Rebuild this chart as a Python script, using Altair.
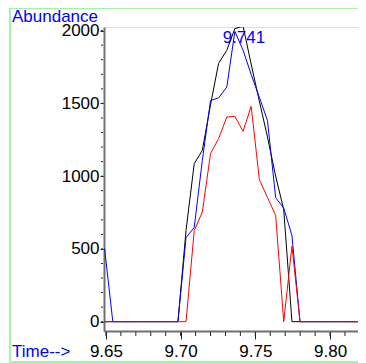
import altair as alt
import pandas as pd

# Retention time (min) of each scan
times = [9.6491, 9.6546, 9.6600, 9.6655, 9.6709, 9.6764, 9.6818, 9.6873, 9.6927, 9.6982,
         9.7036, 9.7091, 9.7145, 9.7200, 9.7254, 9.7309, 9.7363, 9.7418, 9.7472, 9.7527,
         9.7581, 9.7636, 9.7690, 9.7745, 9.7799, 9.7854, 9.7908, 9.7963, 9.8017, 9.8072,
         9.8126, 9.8181, 9.8235]
black = [0, 0, 0, 0, 0, 0, 0, 0, 0, 0,
         627, 1086, 1177, 1491, 1775, 1865, 2014, 2030, 1770, 1514,
         1270, 1000, 770, 0, 0, 0, 0, 0, 0, 0,
         0, 0, 0]
blue = [502, 0, 0, 0, 0, 0, 0, 0, 0, 0,
        577, 648, 1108, 1520, 1538, 1612, 1995, 1865, 1699, 1541,
        1383, 852, 781, 593, 0, 0, 0, 0, 0, 0,
        0, 0, 0]
red = [0, 0, 0, 0, 0, 0, 0, 0, 0, 0,
       0, 627, 753, 1155, 1258, 1406, 1411, 1308, 1480, 976,
       854, 731, 0, 520, 0, 0, 0, 0, 0, 0,
       0, 0, 0]

x_major = [9.65, 9.70, 9.75, 9.80]
x_minor = [round(9.65 + 0.01 * i, 2) for i in range(17)]
y_major = [0, 500, 1000, 1500, 2000]
y_minor = list(range(0, 2001, 100))
peak_label = "9.741"
peak_time = 9.741

W, H = 254, 304
x_domain = [9.6487, 9.6487 + W / 1494]
y_domain = [-64, 2025]

FONT = "Liberation Sans"

df = pd.DataFrame({"t": times, "black": black, "blue": blue, "red": red})

xs = alt.Scale(domain=x_domain, nice=False, zero=False)
ys = alt.Scale(domain=y_domain, nice=False, zero=False)

x_axis = alt.Axis(values=x_major, format=".2f", tickSize=8, tickColor="#222", domainColor="#707070",
                  domainWidth=2, labelFont=FONT, labelFontSize=17, labelColor="black",
                  labelPadding=4, labelFlush=False, labelOverlap=False, grid=False, title=None)
y_axis = alt.Axis(values=y_major, format="d", tickSize=4, tickColor="#222", domainColor="#707070",
                  domainWidth=2, labelFont=FONT, labelFontSize=17, labelColor="black",
                  labelPadding=1, labelOverlap=False, grid=False, title=None)

X = lambda f: alt.X(f, scale=xs, axis=x_axis)
Y = lambda f: alt.Y(f, scale=ys, axis=y_axis)


def line(col, color):
    return alt.Chart(df).mark_line(color=color, strokeWidth=1, clip=True).encode(
        x=X("t:Q"), y=Y(f"{col}:Q"))


lbl = pd.DataFrame({"t": [peak_time], "label": [peak_label]})
peak_text = alt.Chart(lbl).mark_text(font=FONT, fontSize=17, color="#0000ff", align="center",
                                     baseline="alphabetic", dx=2).encode(
    x=X("t:Q"), y=alt.value(16), text="label:N")

titles = pd.DataFrame({"txt": ["Abundance"]})
ab = alt.Chart(titles).mark_text(font=FONT, fontSize=17, color="#0000ff", align="left",
                                 baseline="alphabetic").encode(
    x=alt.value(-92), y=alt.value(-5.5), text="txt:N")
titles2 = pd.DataFrame({"txt": ["Time-->"]})
tm = alt.Chart(titles2).mark_text(font=FONT, fontSize=17, color="#0000ff", align="left",
                                  baseline="alphabetic").encode(
    x=alt.value(-92), y=alt.value(330), text="txt:N")

green = "#a4f4a4"
gl = alt.Chart(titles).mark_rule(color=green, strokeWidth=2).encode(
    x=alt.value(-94), y=alt.value(-19), y2=alt.value(336))
gb = alt.Chart(titles).mark_rule(color=green, strokeWidth=2).encode(
    x=alt.value(-94), x2=alt.value(W), y=alt.value(335))
gt = alt.Chart(titles).mark_rule(color=green, strokeWidth=2).encode(
    x=alt.value(-94), x2=alt.value(W), y=alt.value(-19))

# minor ticks
xm = pd.DataFrame({"t": x_minor})
xminor = alt.Chart(xm).mark_rule(color="#222", strokeWidth=1).encode(
    x=X("t:Q"), y=alt.value(H + 1), y2=alt.value(H + 5))
ym = pd.DataFrame({"v": y_minor})
yminor = alt.Chart(ym).mark_rule(color="#222", strokeWidth=1).encode(
    y=Y("v:Q"), x=alt.value(-3), x2=alt.value(-1))

chart = alt.layer(line("black", "black"), line("blue", "#0000ff"), line("red", "#ff0000"),
                  xminor, yminor, peak_text, ab, tm, gl, gb, gt).properties(
    width=W, height=H,
    autosize=alt.AutoSizeParams(type="none"),
    padding={"left": 96, "top": 19, "right": 0, "bottom": 32},
).configure_view(stroke=None).configure(background="white")

chart.save("out.html", embed_options={"renderer": "svg", "actions": False})
